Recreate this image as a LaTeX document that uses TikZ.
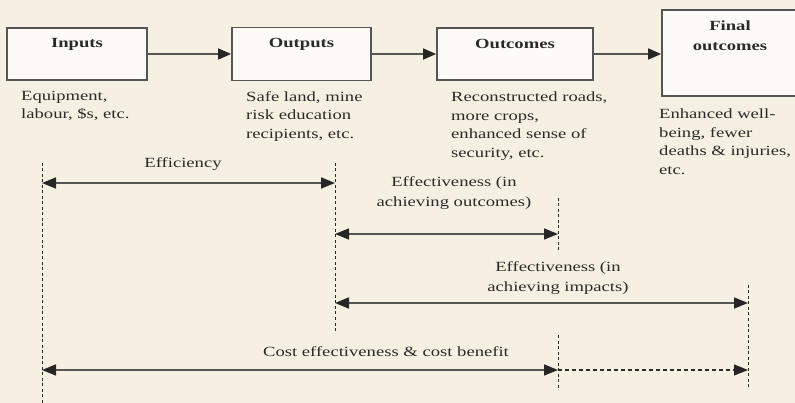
\documentclass[tikz,border=0pt]{standalone}
\usepackage{fontspec}
\setmainfont{Liberation Serif}[FakeStretch=1.33]
\usetikzlibrary{arrows.meta}
\definecolor{bg}{HTML}{F6F0E2}
\definecolor{boxfill}{HTML}{FCFBF7}
\definecolor{ink}{HTML}{2A2A2A}
\definecolor{linec}{HTML}{555555}
\begin{document}
\begin{tikzpicture}[x=1pt,y=-1pt,
  box/.style={draw=linec, line width=1.8pt, fill=boxfill, rectangle, inner sep=0pt},
  title/.style={font=\bfseries\fontsize{14}{20}\selectfont, text=ink, inner sep=0pt, align=center},
  desc/.style={font=\fontsize{14}{18.5}\selectfont, text=ink, align=left, inner sep=0pt, anchor=north west},
  lbl/.style={font=\fontsize{14}{20}\selectfont, text=ink, align=center, inner sep=0pt},
  flow/.style={draw=linec, line width=1.6pt, -{Triangle[length=13pt,width=11pt,color=black!85]}},
  dim/.style={draw=linec, line width=1.6pt, {Triangle[length=14pt,width=11pt,color=black!85]}-{Triangle[length=14pt,width=11pt,color=black!85]}},
  guide/.style={draw=ink, line width=0.9pt, dash pattern=on 3pt off 2.5pt}]
\fill[bg] (0,0) rectangle (795,403);
\clip (0,0) rectangle (795,403);
\useasboundingbox (0,0) rectangle (795,403);

% boxes
\node[box, minimum width=140pt, minimum height=52pt] (in) at (77,54) {};
\node[box, minimum width=139pt, minimum height=53pt] (out) at (301.5,54) {};
\node[box, minimum width=156pt, minimum height=52pt] (oc) at (515,54) {};
\node[box, minimum width=138pt, minimum height=86pt] (fin) at (731,53) {};

% titles
\node[title, anchor=base] (tin) at (77,48) {Inputs};
\node[title, anchor=base] (tout) at (301.5,48) {Outputs};
\node[title, anchor=base] (toc) at (515,49) {Outcomes};
\node[title, anchor=north] (tfin) at (730,21) {Final\\outcomes};

% flow arrows
\draw[flow] (in.east) -- (out.west);
\draw[flow] (out.east) -- (oc.west);
\draw[flow] (oc.east) -- (fin.west |- oc.east);

% descriptions
\node[desc] (din) at (21,91) {Equipment,\\labour, \$s, etc.};
\node[desc] (dout) at (246,91) {Safe land, mine\\risk education\\recipients, etc.};
\node[desc] (doc) at (451,92) {Reconstructed roads,\\more crops,\\enhanced sense of\\security, etc.};
\node[desc] (dfin) at (659,109) {Enhanced well-\\being, fewer\\deaths \& injuries,\\etc.};

% guide lines
\coordinate (gAt) at (42,163);   \coordinate (gAb) at (42,403);
\coordinate (gBt) at (335,163);  \coordinate (gBb) at (335,333);
\coordinate (gCt) at (558,198);  \coordinate (gCb) at (558,250);
\coordinate (gDt) at (558,335);  \coordinate (gDb) at (558,390);
\coordinate (gEt) at (748,285);  \coordinate (gEb) at (748,388);
\draw[guide] (gAt) -- (gAb);
\draw[guide] (gBt) -- (gBb);
\draw[guide] (gCt) -- (gCb);
\draw[guide] (gDt) -- (gDb);
\draw[guide] (gEt) -- (gEb);

% dimension arrows
\coordinate (e1) at (42,183);  \coordinate (e2) at (335,183);
\coordinate (o1) at (335,234); \coordinate (o2) at (558,234);
\coordinate (i1) at (335,303); \coordinate (i2) at (748,303);
\coordinate (c1) at (42,370);  \coordinate (c2) at (558,370); \coordinate (c3) at (748,370);
\draw[dim] (e1) -- (e2);
\draw[dim] (o1) -- (o2);
\draw[dim] (i1) -- (i2);
\draw[dim] (c1) -- (c2);
\draw[guide, line width=1.1pt, dash pattern=on 4pt off 3pt, -{Triangle[length=14pt,width=11pt,color=black!85]}] (c2) -- (c3);

% labels
\node[lbl, anchor=base] (leff) at (183,168) {Efficiency};
\node[lbl, anchor=north] (lout) at (454,176) {Effectiveness (in\\achieving outcomes)};
\node[lbl, anchor=north] (limp) at (558,261) {Effectiveness (in\\achieving impacts)};
\node[lbl, anchor=base] (lcost) at (386,356) {Cost effectiveness \& cost benefit};
\end{tikzpicture}
\end{document}
